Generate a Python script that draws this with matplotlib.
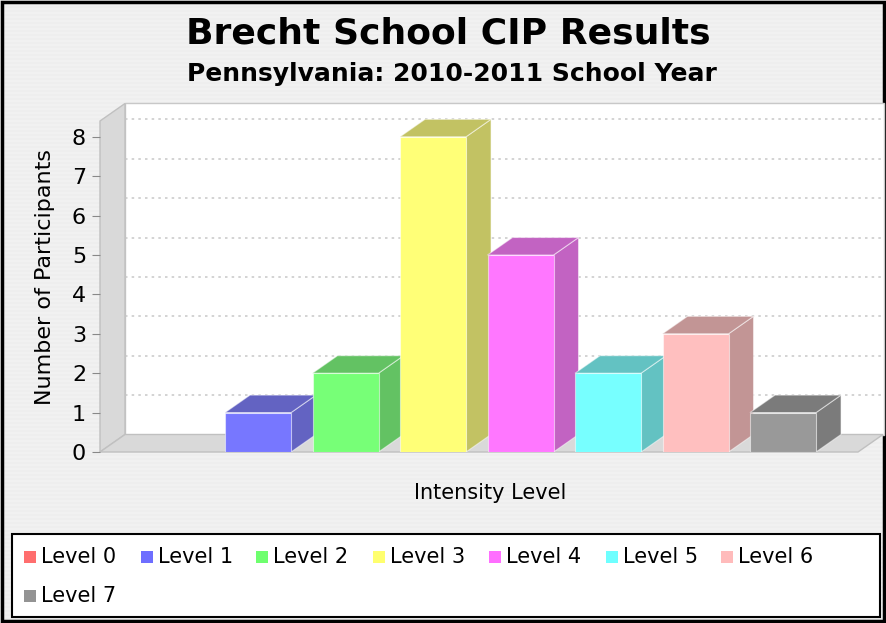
import numpy as np
import matplotlib
matplotlib.use("Agg")
import matplotlib.pyplot as plt
from matplotlib.patches import Polygon, Rectangle
from matplotlib.colors import to_rgb

# data
levels = ["Level 0", "Level 1", "Level 2", "Level 3", "Level 4", "Level 5", "Level 6", "Level 7"]
participants = [0, 1, 2, 8, 5, 2, 3, 1]
colors = ["#ff5555", "#5555ff", "#55ff55", "#ffff55", "#ff55ff", "#55ffff", "#ffafaf", "#808080"]
yticks = [0, 1, 2, 3, 4, 5, 6, 7, 8]

title = "Brecht School CIP Results"
subtitle = "Pennsylvania: 2010-2011 School Year"

W, H = 887, 623
fig = plt.figure(figsize=(W / 100, H / 100), dpi=100)

def fx(px):
    return px / W

def fy(py):
    return 1 - py / H

# striped background
bg = fig.add_axes([0, 0, 1, 1])
stripes = np.tile(np.array([[0.945], [0.945], [0.93], [0.93]]), (H // 4 + 1, 1))[:H]
bg.imshow(np.repeat(stripes, 4, axis=1), cmap="gray", vmin=0, vmax=1,
          aspect="auto", extent=[0, 1, 0, 1], interpolation="nearest")
bg.set_xlim(0, 1)
bg.set_ylim(0, 1)
bg.axis("off")
bg.add_patch(Rectangle((fx(2), fy(621)), fx(882), 619 / H, fill=False,
                       edgecolor="black", lw=2.5))

fig.text(0.505, fy(33), title, ha="center", va="center", fontsize=26,
         fontweight="bold", color="black")
fig.text(0.51, fy(74), subtitle, ha="center", va="center", fontsize=18,
         fontweight="bold", color="black")

# main plot, front plane coordinates
px_unit_y = 39.4
px_unit_x = 87.5
top_px, bot_px, left_px, right_px = 102, 452, 100, 884
ax = fig.add_axes([fx(left_px), fy(bot_px), (right_px - left_px) / W, (bot_px - top_px) / H])
x0 = -0.806
ax.set_xlim(x0, x0 + (right_px - left_px) / px_unit_x)
ax.set_ylim(0, (bot_px - top_px) / px_unit_y)
ax.patch.set_visible(False)
for s in ax.spines.values():
    s.set_visible(False)

dx = 25 / px_unit_x
dy = 17.5 / px_unit_y
xr = x0 + (858 - left_px) / px_unit_x
ytop = (433 - top_px) / px_unit_y

# walls and floor
wall_c = "#d9d9d9"
ax.add_patch(Rectangle((x0 + dx, dy), ax.get_xlim()[1] - x0 - dx, ytop, facecolor="white",
                       edgecolor="#c8c8c8", lw=1, clip_on=False, zorder=0))
ax.add_patch(Polygon([(x0, 0), (x0 + dx, dy), (x0 + dx, dy + ytop), (x0, ytop)],
                     facecolor=wall_c, edgecolor="#c0c0c0", lw=1, clip_on=False, zorder=1))
ax.add_patch(Polygon([(x0, 0), (xr, 0), (xr + dx, dy), (x0 + dx, dy)],
                     facecolor=wall_c, edgecolor="#c0c0c0", lw=1, clip_on=False, zorder=1))

for v in yticks[1:]:
    ax.plot([x0 + dx, ax.get_xlim()[1]], [v + dy, v + dy], color="#cccccc", lw=1.2,
            ls=(0, (1.5, 2.5)), clip_on=False, zorder=0.5)

# 3d bars
w = 66 / px_unit_x
alpha = 0.8
for i, (v, c) in enumerate(zip(participants, colors)):
    if v <= 0:
        continue
    base = np.array(to_rgb(c))
    front = base * alpha + (1 - alpha)
    dark = base * 0.7 * alpha + (1 - alpha)
    xl = i - w / 2
    xrr = i + w / 2
    ax.add_patch(Polygon([(xrr, 0), (xrr + dx, dy), (xrr + dx, v + dy), (xrr, v)],
                         facecolor=dark, edgecolor=(1, 1, 1, 0.5), lw=0.8, zorder=3))
    ax.add_patch(Polygon([(xl, v), (xl + dx, v + dy), (xrr + dx, v + dy), (xrr, v)],
                         facecolor=dark, edgecolor=(1, 1, 1, 0.5), lw=0.8, zorder=3))
    ax.bar(i, v, width=w, color=front, edgecolor=(1, 1, 1, 0.5), lw=0.8, zorder=4)

ax.set_xticks([])
ax.set_yticks(yticks)
ax.set_yticklabels([str(t) for t in yticks], fontsize=16)
ax.tick_params(axis="y", length=6, color="#888888", pad=4)
ax.set_ylabel("Number of Participants", fontsize=16, labelpad=12)
ax.set_xlabel("Intensity Level", fontsize=15, labelpad=18)
ax.xaxis.set_label_coords((490 - left_px) / (right_px - left_px), -(483 - bot_px) / (bot_px - top_px))

# legend box
bg.add_patch(Rectangle((fx(12), fy(617)), fx(868), 83 / H, facecolor="white",
                       edgecolor="black", lw=1.5, zorder=2))
col_x = [24, 141, 256, 373, 489, 606, 721]
for k, (lab, c) in enumerate(zip(levels, colors)):
    row, col = divmod(k, 7)
    cy = 557 + row * 39
    sx = col_x[col]
    bg.add_patch(Rectangle((fx(sx), fy(cy + 6)), fx(12), 12 / H, facecolor=c,
                           edgecolor="none", alpha=0.85, zorder=3))
    bg.text(fx(sx + 17), fy(cy), lab, ha="left", va="center", fontsize=15, zorder=3)

fig.savefig("out.png", dpi=100)
